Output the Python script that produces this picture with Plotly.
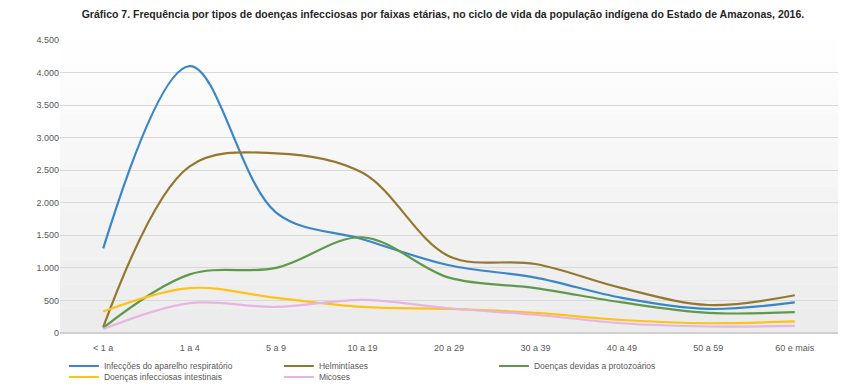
import plotly.graph_objects as go

# faixas etárias
age_groups = ["< 1 a", "1 a 4", "5 a 9", "10 a 19", "20 a 29", "30 a 39", "40 a 49", "50 a 59", "60 e mais"]

respiratorio = [1300, 4100, 1850, 1440, 1040, 850, 540, 370, 470]
helmintiases = [90, 2560, 2760, 2460, 1180, 1060, 690, 430, 580]
protozoarios = [80, 900, 1000, 1470, 850, 690, 470, 310, 320]
intestinais = [330, 690, 540, 400, 370, 310, 200, 150, 180]
micoses = [60, 460, 400, 510, 380, 280, 150, 100, 110]

# name, values, colour, legend row
series = [
    ("Infecções do aparelho respiratório", respiratorio, "#3a86c8", "legend"),
    ("Helmintíases", helmintiases, "#93782f", "legend"),
    ("Doenças devidas a protozoários", protozoarios, "#5f9a4c", "legend"),
    ("Doenças infecciosas intestinais", intestinais, "#ffc21a", "legend2"),
    ("Micoses", micoses, "#e8b4e4", "legend2"),
]

fig = go.Figure()

for name, values, color, leg in series:
    fig.add_trace(go.Scatter(
        x=age_groups, y=values, name=name, mode="lines", legend=leg,
        line=dict(color=color, width=2.2, shape="spline", smoothing=1.0),
    ))

# soft vertical gradient in the plot area (white at top, light grey at bottom)
steps = 12
for i in range(steps):
    g = int(255 - (255 - 236) * (i + 0.5) / steps)
    fig.add_shape(
        type="rect", xref="x domain", yref="y domain",
        x0=0, x1=1, y0=1 - (i + 1) / steps, y1=1 - i / steps,
        fillcolor=f"rgb({g},{g},{g})", line_width=0, layer="below",
    )

legend_style = dict(
    orientation="h", x=0.005, xanchor="left", yref="container", yanchor="middle",
    entrywidth=170, entrywidthmode="pixels", itemwidth=30,
    font=dict(size=8.5, color="#595959"), bgcolor="rgba(0,0,0,0)",
)

fig.update_layout(
    width=830, height=376,
    margin=dict(l=52, r=0, t=32, b=51, autoexpand=False),
    paper_bgcolor="white",
    plot_bgcolor="white",
    separators=",.",
    font=dict(family="Liberation Sans, Arial, sans-serif", size=9, color="#595959"),
    title=dict(
        text="<b>Gráfico 7. Frequência por tipos de doenças infecciosas por faixas etárias, no ciclo de vida da população indígena do Estado de Amazonas, 2016.</b>",
        x=0.524, xanchor="center", y=0.992, yanchor="top",
        font=dict(size=10.5, color="#262626"),
    ),
    xaxis=dict(showgrid=False, showline=False, ticks="outside", ticklen=6,
               tickcolor="rgba(0,0,0,0)", tickfont=dict(size=9),
               range=[-0.5, 8.5]),
    yaxis=dict(
        range=[0, 4500], dtick=500, tickformat=",d",
        showgrid=True, gridcolor="#d9d9d9", gridwidth=1,
        zeroline=True, zerolinecolor="#d0d0d0", tickfont=dict(size=9),
    ),
    legend=dict(legend_style, y=1 - 358 / 376),
    legend2=dict(legend_style, y=1 - 369 / 376),
)

fig.write_html("out.html")
